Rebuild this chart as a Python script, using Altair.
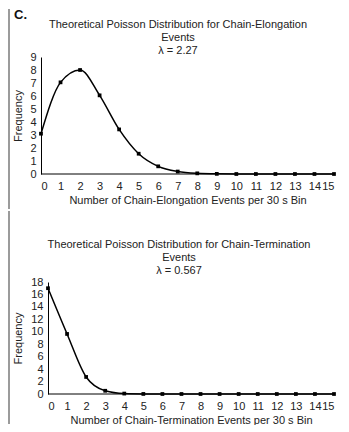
import altair as alt
import pandas as pd

# ---- data ----
events = list(range(16))
elong_freq = [3.1, 7.05, 8.0, 6.05, 3.43, 1.56, 0.59, 0.19, 0.05, 0.01, 0, 0, 0, 0, 0, 0]
term_freq = [17.0, 9.65, 2.74, 0.52, 0.07, 0.01, 0, 0, 0, 0, 0, 0, 0, 0, 0, 0]
elong_title = ["Theoretical Poisson Distribution for Chain-Elongation", "Events", "λ = 2.27"]
term_title = ["Theoretical Poisson Distribution for Chain-Termination", "Events", "λ = 0.567"]
elong_xtitle = "Number of Chain-Elongation Events per 30 s Bin"
term_xtitle = "Number of Chain-Termination Events per 30 s Bin"
y_title = "Frequency"
panel_label = "C."
elong_yticks = list(range(0, 10, 1))
term_yticks = list(range(0, 19, 2))
x_domain = [0, 15]

FONT = "Liberation Sans"
TXT = "#222222"
W = 293
one = pd.DataFrame({"a": [0]})


def panel(freq, title, xtitle, yticks, h, inset, title_x, title_y,
          ytitle_x, rule_x, rule_y1, rule_y2, label=None):
    df = pd.DataFrame({"k": events, "f": freq})
    xscale = alt.Scale(domain=x_domain, nice=False, zero=False,
                       range=[inset, W])
    yscale = alt.Scale(domain=[0, yticks[-1]], nice=False)
    xenc = alt.X("k:Q", scale=xscale,
                 axis=alt.Axis(values=events, title=xtitle, format="d",
                               labelOverlap=False, domain=False))
    yenc = alt.Y("f:Q", scale=yscale,
                 axis=alt.Axis(values=yticks, title=y_title, format="d",
                               labelOverlap=False, offset=-inset,
                               titleX=ytitle_x, titleY=h / 2,
                               titleAngle=270, titleAlign="center",
                               titleBaseline="middle"))
    base = alt.Chart(df).encode(x=xenc, y=yenc)
    # x-axis baseline drawn across the data range
    xbase = alt.Chart(pd.DataFrame({"k": [x_domain[0]], "k1": [x_domain[1]],
                                    "f": [0]})).mark_rule(
        color="black", strokeWidth=1).encode(x=xenc, x2="k1:Q", y=yenc)
    line = base.mark_line(interpolate="monotone", color="black",
                          strokeWidth=1.5)
    pts = base.mark_square(size=14, color="black", opacity=1)
    border = alt.Chart(one).mark_rule(
        color="#7a7a7a", strokeWidth=1.5).encode(
        x=alt.value(rule_x), y=alt.value(rule_y1), y2=alt.value(rule_y2))
    ttl = alt.Chart(one).mark_text(
        text=title, font=FONT, fontSize=11, lineHeight=13,
        align="center", baseline="middle", color=TXT).encode(
        x=alt.value(title_x), y=alt.value(title_y))
    layers = [border, line, pts, xbase, ttl]
    if label:
        lab = alt.Chart(one).mark_text(
            text=label, font=FONT, fontSize=13, fontWeight="bold",
            align="left", baseline="alphabetic", color="#111").encode(
            x=alt.value(-27), y=alt.value(-38))
        layers.append(lab)
    return alt.layer(*layers).properties(width=W, height=h)


# panel 1: plot area at page x 41..334, y 56..173
c1 = panel(elong_freq, elong_title, elong_xtitle, elong_yticks,
           117, 0, 137, -32, -23, -32, -48, 152, label=panel_label)
# panel 2: plot area at page x 48..334, y 279..391
c2 = panel(term_freq, term_title, term_xtitle, term_yticks,
           112, 7, 138, -37, -30, -32, -71, 142)

chart = alt.concat(c1, c2, columns=1, spacing=0, align="none",
                   bounds="full").properties(
    padding=0, background="white"
).configure_view(stroke=None).configure_axis(
    grid=False, ticks=False, domainColor="black", domainWidth=1,
    labelOverlap=False,
    labelFont=FONT, labelFontSize=11, labelColor=TXT,
    titleFont=FONT, titleFontSize=11, titleFontWeight="normal",
    titleColor=TXT
).configure_axisX(
    labelPadding=6, titlePadding=3
).configure_axisY(
    labelPadding=5
)

chart.save("out.html", embed_options={"renderer": "svg", "actions": False})
